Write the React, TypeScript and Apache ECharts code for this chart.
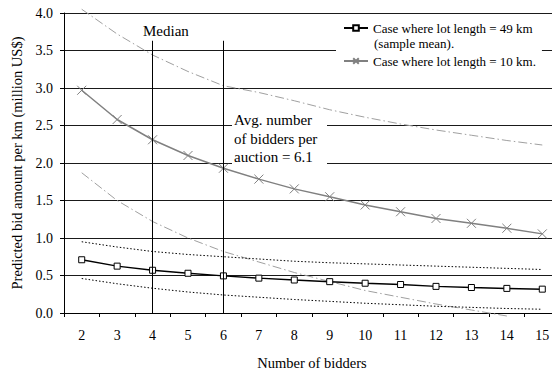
import React, { useEffect, useRef } from "react";
import * as echarts from "echarts";

// Number of bidders in the auction
const bidders = ["2", "3", "4", "5", "6", "7", "8", "9", "10", "11", "12", "13", "14", "15"];

// Predicted bid amount per km (million US$), lot length = 49 km
const lot49 = [0.71, 0.625, 0.57, 0.53, 0.495, 0.465, 0.44, 0.418, 0.397, 0.38, 0.355, 0.34, 0.328, 0.318];
const lot49Upper = [0.95, 0.88, 0.82, 0.78, 0.75, 0.72, 0.69, 0.67, 0.655, 0.64, 0.625, 0.61, 0.595, 0.58];
const lot49Lower = [0.46, 0.39, 0.33, 0.28, 0.24, 0.21, 0.18, 0.155, 0.13, 0.11, 0.09, 0.075, 0.06, 0.05];

// Predicted bid amount per km (million US$), lot length = 10 km
const lot10 = [2.97, 2.58, 2.31, 2.1, 1.93, 1.785, 1.655, 1.55, 1.44, 1.35, 1.26, 1.196, 1.13, 1.055];
const lot10Upper = [4.05, 3.72, 3.44, 3.22, 3.03, 2.94, 2.83, 2.71, 2.61, 2.52, 2.44, 2.37, 2.3, 2.24];
const lot10Lower = [1.87, 1.5, 1.22, 1.0, 0.82, 0.68, 0.54, 0.42, 0.3, 0.21, 0.12, 0.04, -0.04];

const yTicks = { min: 0, max: 4, interval: 0.5 };
const medianBidders = "4";
const avgBidders = "6";
const guideTop = 3.63;

const seriesNames = ["Case where lot length = 49 km", "Case where lot length = 10 km."];

const FONT = "Times New Roman, Liberation Serif, serif";

export default function App() {
  const ref = useRef<HTMLDivElement>(null);

  useEffect(() => {
    if (!ref.current) return;
    const chart = echarts.init(ref.current, null, { renderer: "svg" });

    const dotted = { color: "#000", width: 1, type: [1.5, 2] as number[] };
    const dashDot = { color: "#a0a0a0", width: 1, type: [9, 3, 1.5, 3] as number[] };

    chart.setOption({
      animation: false,
      backgroundColor: "#fff",
      textStyle: { fontFamily: FONT, color: "#000" },
      grid: { left: 64, top: 13, width: 496, height: 300, outerBoundsMode: "none" },
      legend: {
        orient: "vertical",
        left: 336,
        top: 15.5,
        padding: [5, 6, 5, 7],
        backgroundColor: "#fff",
        itemWidth: 24,
        itemHeight: 7,
        itemGap: 18,
        textStyle: { fontFamily: FONT, fontSize: 13, lineHeight: 15, color: "#000" },
        data: seriesNames,
        selectedMode: false,
      },
      xAxis: {
        type: "category",
        data: bidders,
        boundaryGap: true,
        name: "Number of bidders",
        nameLocation: "middle",
        nameGap: 42,
        nameTextStyle: { fontFamily: FONT, fontSize: 14.5, color: "#000" },
        axisLine: { lineStyle: { color: "#000", width: 1 } },
        axisTick: { show: true, length: 4, lineStyle: { color: "#000" } },
        axisLabel: { fontFamily: FONT, fontSize: 14, color: "#000", margin: 15 },
        splitLine: { show: false },
      },
      yAxis: {
        type: "value",
        min: yTicks.min,
        max: yTicks.max,
        interval: yTicks.interval,
        name: "Predicted bid amount per km (million US$)",
        nameLocation: "middle",
        nameGap: 38,
        nameTextStyle: { fontFamily: FONT, fontSize: 14.5, color: "#000" },
        axisLine: { show: true, lineStyle: { color: "#000", width: 1 } },
        axisTick: { show: true, length: 4, lineStyle: { color: "#000" } },
        axisLabel: {
          fontFamily: FONT,
          fontSize: 14,
          color: "#000",
          margin: 11,
          formatter: (v: number) => v.toFixed(1),
        },
        splitLine: { show: true, lineStyle: { color: "#1a1a1a", width: 1 } },
      },
      series: [
        {
          name: "upper10",
          type: "line",
          data: lot10Upper,
          symbol: "none",
          clip: false,
          lineStyle: dashDot,
          z: 1,
        },
        {
          name: "lower10",
          type: "line",
          data: lot10Lower,
          symbol: "none",
          clip: false,
          lineStyle: dashDot,
          z: 1,
        },
        {
          name: "upper49",
          type: "line",
          data: lot49Upper,
          symbol: "none",
          lineStyle: dotted,
          z: 1,
        },
        {
          name: "lower49",
          type: "line",
          data: lot49Lower,
          symbol: "none",
          lineStyle: dotted,
          z: 1,
        },
        {
          name: seriesNames[1],
          type: "line",
          data: lot10,
          symbol: "path://M0,0L10,10M10,0L0,10",
          symbolSize: 9,
          lineStyle: { color: "#808080", width: 1.5 },
          itemStyle: { color: "rgba(0,0,0,0)", borderColor: "#808080", borderWidth: 1 },
          z: 3,
        },
        {
          name: seriesNames[0],
          type: "line",
          data: lot49,
          symbol: "rect",
          symbolSize: 6,
          lineStyle: { color: "#000", width: 1.5 },
          itemStyle: { color: "#fff", borderColor: "#000", borderWidth: 1 },
          z: 4,
          markLine: {
            silent: true,
            symbol: "none",
            label: { show: false },
            lineStyle: { color: "#000", width: 1, type: "solid" },
            data: [
              [
                { xAxis: medianBidders, yAxis: guideTop },
                { xAxis: medianBidders, yAxis: 0 },
              ],
              [
                { xAxis: avgBidders, yAxis: guideTop },
                { xAxis: avgBidders, yAxis: 0 },
              ],
            ],
          },
        },
      ],
      graphic: [
        {
          type: "text",
          z: 100,
          left: 143,
          top: 23,
          style: { text: "Median", fontFamily: FONT, fontSize: 15, fill: "#000" },
        },
        {
          type: "rect",
          z: 100,
          shape: { x: 232, y: 110, width: 95, height: 56 },
          style: { fill: "#fff" },
        },
        {
          type: "text",
          z: 101,
          left: 234,
          top: 111,
          style: {
            text: "Avg. number\nof bidders per\nauction = 6.1",
            fontFamily: FONT,
            fontSize: 15,
            lineHeight: 18.5,
            fill: "#000",
          },
        },
        {
          type: "text",
          z: 100,
          left: 374,
          top: 37,
          style: { text: "(sample mean).", fontFamily: FONT, fontSize: 13, fill: "#000" },
        },
      ],
    });

    return () => chart.dispose();
  }, []);

  return (
    <div
      ref={ref}
      style={{ position: "fixed", left: 0, top: 0, width: 552, height: 373, background: "#fff" }}
    />
  );
}
